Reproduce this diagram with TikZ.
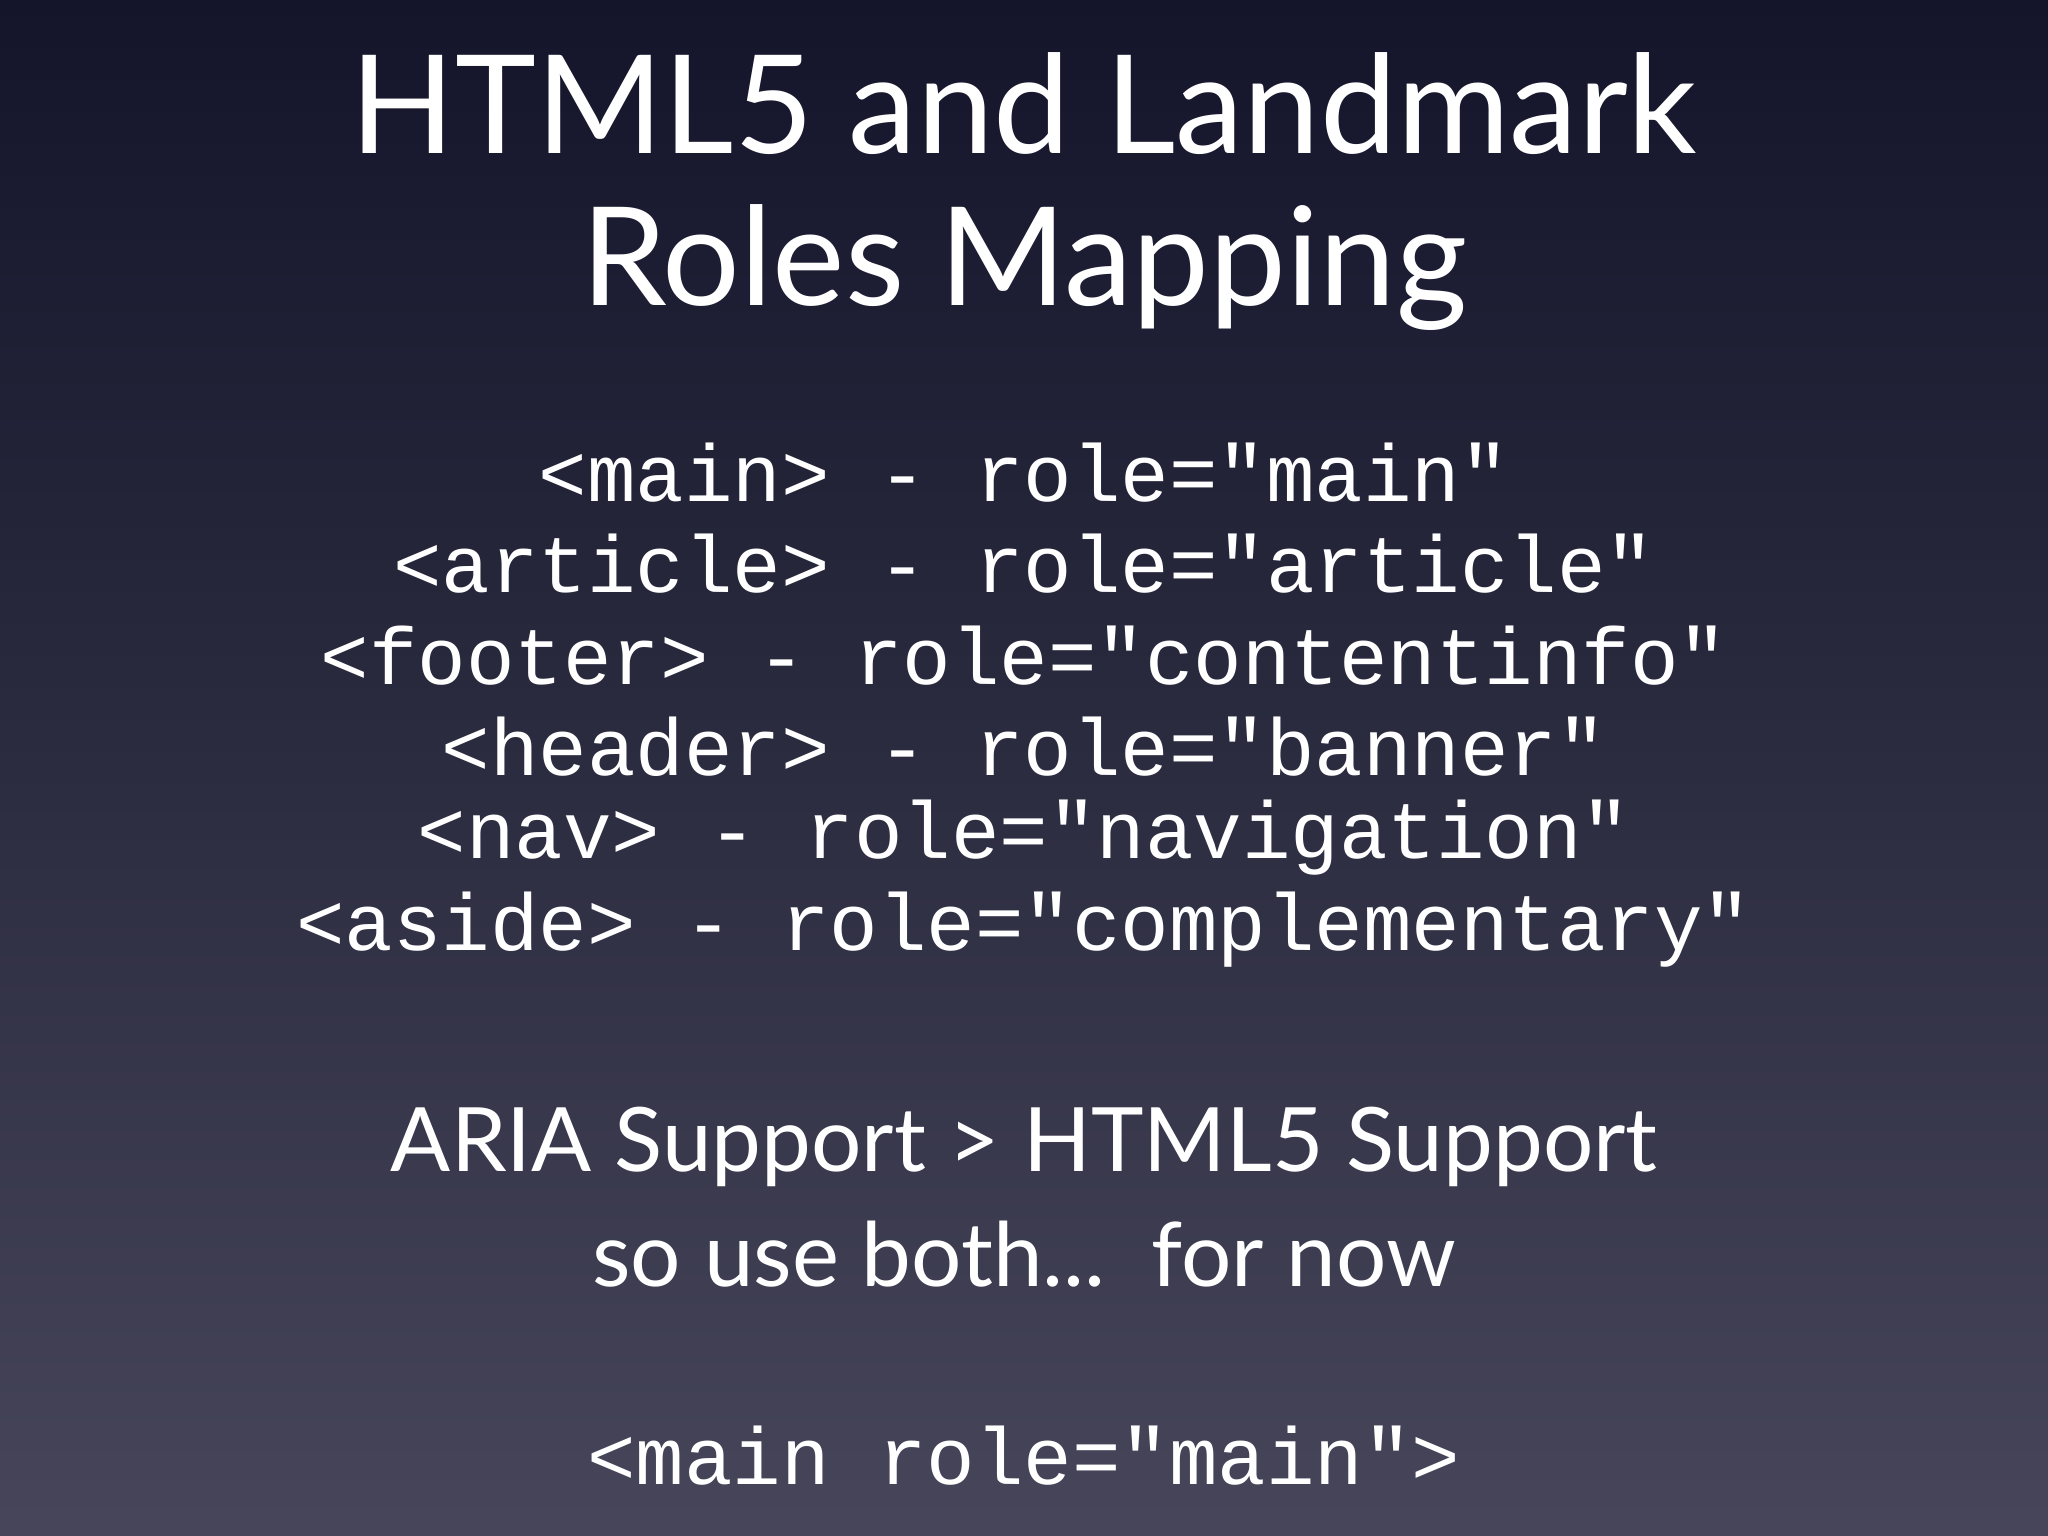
\documentclass[tikz,border=0pt]{standalone}
\usepackage{fontspec}
\setmainfont{Lato}
\newfontfamily\monof{Liberation Mono}
\definecolor{bga}{RGB}{97,95,115}
\definecolor{bgb}{RGB}{44,44,64}
\definecolor{bgc}{RGB}{20,20,43}
\pgfdeclareverticalshading{slidebg}{100bp}{
 color(0bp)=(bga);
 color(50bp)=(bgb);
 color(75bp)=(bgc);
 color(85bp)=(black);
 color(100bp)=(black)}
\tikzset{title/.style={text=white,font=\fontsize{39}{48}\selectfont,anchor=center},
 mono/.style={text=white,font=\monof\fontsize{23}{28}\selectfont,anchor=center},
 body/.style={text=white,font=\fontsize{25.3}{32}\selectfont,anchor=center}}
\begin{document}
\begin{tikzpicture}[x=1cm,y=-1cm]
\shade[shading=slidebg] (0,0) rectangle (20.48,15.36);
\useasboundingbox (0,0) rectangle (20.48,15.36);
\node[title] (t1) at (10.24,1.04) {HTML5 and Landmark};
\node[title] (t2) at (10.24,2.68) {Roles Mapping};
\node[mono] (m1) at (10.24,4.73) {<main> - role="main"};
\node[mono] (m2) at (10.24,5.64) {<article> - role="article"};
\node[mono] (m3) at (10.24,6.56) {<footer> - role="contentinfo"};
\node[mono] (m4) at (10.24,7.47) {<header> - role="banner"};
\node[mono] (m5) at (10.24,8.38) {<nav> - role="navigation"};
\node[mono] (m6) at (10.24,9.30) {<aside> - role="complementary"};
\node[body] (b1) at (10.24,11.47) {ARIA Support > HTML5 Support};
\node[body] (b2) at (10.24,12.54) {so use both...\ \ for now};
\node[mono] (m7) at (10.24,14.56) {<main role="main">};
\end{tikzpicture}
\end{document}
